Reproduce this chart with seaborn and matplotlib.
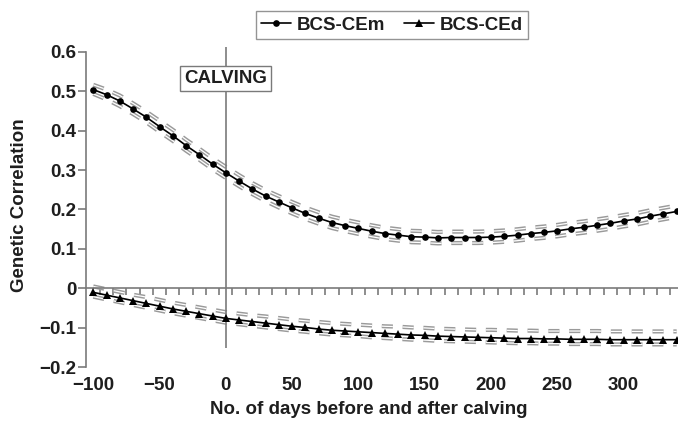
import matplotlib
matplotlib.use("Agg")
import matplotlib.pyplot as plt
import seaborn as sns
import numpy as np
import pandas as pd

# ---------------- data ----------------
days = [-100, -90, -80, -70, -60, -50, -40, -30, -20, -10,
        0, 10, 20, 30, 40, 50, 60, 70, 80, 90,
        100, 110, 120, 130, 140, 150, 160, 170, 180, 190,
        200, 210, 220, 230, 240, 250, 260, 270, 280, 290,
        300, 310, 320, 330, 340]

cem = [0.504, 0.491, 0.475, 0.455, 0.434, 0.410, 0.387, 0.362, 0.339, 0.315,
       0.293, 0.272, 0.252, 0.234, 0.219, 0.204, 0.190, 0.178, 0.167, 0.159,
       0.152, 0.145, 0.139, 0.135, 0.131, 0.130, 0.128, 0.129, 0.129, 0.129,
       0.130, 0.132, 0.135, 0.139, 0.142, 0.146, 0.151, 0.155, 0.160, 0.165,
       0.171, 0.176, 0.183, 0.189, 0.195]
cem_upper = [0.516, 0.504, 0.489, 0.469, 0.448, 0.425, 0.402, 0.377, 0.354, 0.330,
             0.308, 0.287, 0.267, 0.249, 0.234, 0.219, 0.205, 0.193, 0.182, 0.174,
             0.167, 0.160, 0.154, 0.150, 0.146, 0.145, 0.143, 0.144, 0.144, 0.144,
             0.145, 0.147, 0.150, 0.154, 0.157, 0.161, 0.166, 0.170, 0.175, 0.180,
             0.186, 0.191, 0.198, 0.204, 0.210]
cem_lower = [0.493, 0.479, 0.462, 0.442, 0.421, 0.397, 0.374, 0.349, 0.326, 0.302,
             0.280, 0.259, 0.239, 0.221, 0.205, 0.190, 0.176, 0.164, 0.153, 0.145,
             0.138, 0.131, 0.125, 0.121, 0.117, 0.116, 0.114, 0.115, 0.115, 0.115,
             0.116, 0.118, 0.121, 0.125, 0.128, 0.132, 0.137, 0.141, 0.146, 0.151,
             0.157, 0.162, 0.169, 0.175, 0.181]

ced = [-0.010, -0.017, -0.024, -0.031, -0.038, -0.045, -0.052, -0.058, -0.064, -0.070,
       -0.076, -0.080, -0.084, -0.088, -0.092, -0.096, -0.099, -0.103, -0.106, -0.108,
       -0.110, -0.112, -0.114, -0.116, -0.118, -0.119, -0.121, -0.122, -0.123, -0.124,
       -0.125, -0.126, -0.127, -0.127, -0.128, -0.128, -0.129, -0.129, -0.129, -0.130,
       -0.130, -0.130, -0.130, -0.130, -0.130]
ced_upper = [0.005, -0.002, -0.009, -0.016, -0.022, -0.029, -0.036, -0.042, -0.048, -0.054,
             -0.060, -0.064, -0.068, -0.071, -0.075, -0.079, -0.082, -0.085, -0.088, -0.090,
             -0.092, -0.094, -0.096, -0.097, -0.099, -0.100, -0.102, -0.103, -0.104, -0.105,
             -0.105, -0.106, -0.107, -0.107, -0.108, -0.108, -0.108, -0.108, -0.108, -0.109,
             -0.109, -0.109, -0.109, -0.109, -0.109]
ced_lower = [-0.021, -0.028, -0.035, -0.042, -0.049, -0.056, -0.063, -0.069, -0.075, -0.081,
             -0.087, -0.091, -0.095, -0.099, -0.103, -0.107, -0.110, -0.114, -0.117, -0.119,
             -0.121, -0.124, -0.126, -0.128, -0.130, -0.131, -0.133, -0.134, -0.135, -0.136,
             -0.137, -0.138, -0.139, -0.139, -0.140, -0.140, -0.141, -0.141, -0.141, -0.142,
             -0.142, -0.142, -0.142, -0.142, -0.142]

series_names = ["BCS-CEm", "BCS-CEd"]
ytick_vals = [0.6, 0.5, 0.4, 0.3, 0.2, 0.1, 0, -0.1, -0.2]
ytick_labels = ["0.6", "0.5", "0.4", "0.3", "0.2", "0.1", "0", "\u22120.1", "\u22120.2"]
xtick_vals = [-100, -50, 0, 50, 100, 150, 200, 250, 300]
xtick_labels = ["\u2212100", "\u221250", "0", "50", "100", "150", "200", "250", "300"]
minor_ticks = [-95, -85, -75, -65, -55, -45, -35, -25, -15, -5,
               5, 15, 25, 35, 45, 55, 65, 75, 85, 95,
               105, 115, 125, 135, 145, 155, 165, 175, 185, 195,
               205, 215, 225, 235, 245, 255, 265, 275, 285, 295,
               305, 315, 325, 335]

df = pd.DataFrame({"day": days, "cem": cem, "cem_u": cem_upper, "cem_l": cem_lower,
                   "ced": ced, "ced_u": ced_upper, "ced_l": ced_lower})

# ---------------- style ----------------
sns.set_theme(style="white")
plt.rcParams["font.family"] = ["Liberation Sans", "DejaVu Sans"]
plt.rcParams["font.weight"] = "bold"
plt.rcParams["lines.scale_dashes"] = False
plt.rcParams["lines.dash_capstyle"] = "butt"

AX_GRAY = "#7a7a7a"
TXT = "#1e1e1e"
BAND = "#9a9a9a"
FS = 13.5

fig = plt.figure(figsize=(6.78, 4.21), dpi=100)
ax = fig.add_axes([0.1268, 0.1275, 0.8732, 0.7685])

dash = (0, (8.0, 7.0))
for col in ["cem_u", "cem_l", "ced_u", "ced_l"]:
    sns.lineplot(data=df, x="day", y=col, ax=ax, color=BAND, lw=3.0,
                 linestyle=dash, errorbar=None, zorder=2)
    sns.lineplot(data=df, x="day", y=col, ax=ax, color="white", lw=0.9,
                 linestyle=dash, errorbar=None, zorder=2.1)

sns.lineplot(data=df, x="day", y="cem", ax=ax, color="black", lw=1.2,
             marker="o", markersize=4.8, markeredgewidth=0,
             errorbar=None, label=series_names[0], zorder=4)
sns.lineplot(data=df, x="day", y="ced", ax=ax, color="black", lw=1.2,
             marker="^", markersize=5.4, markeredgewidth=0,
             errorbar=None, label=series_names[1], zorder=4)

handles, labels = ax.get_legend_handles_labels()
if ax.get_legend() is not None:
    ax.get_legend().remove()

ax.set_xlim(-105.5, 341)
ax.set_ylim(-0.2, 0.62)

# calving line
ax.vlines(0, -0.15, 0.613, color=AX_GRAY, lw=1.2, zorder=3)
ax.text(0, 0.532, "CALVING", ha="center", va="center", fontsize=FS,
        fontweight="bold", color=TXT, zorder=5,
        bbox=dict(boxstyle="square,pad=0.22", fc="white", ec=AX_GRAY, lw=1.0))

# spines
for s in ["top", "right"]:
    ax.spines[s].set_visible(False)
ax.spines["left"].set_bounds(-0.2, 0.6)
ax.spines["left"].set_color(AX_GRAY)
ax.spines["left"].set_linewidth(1.2)
ax.spines["bottom"].set_position(("data", 0))
ax.spines["bottom"].set_color(AX_GRAY)
ax.spines["bottom"].set_linewidth(1.2)

ax.set_yticks(ytick_vals)
ax.set_yticklabels(ytick_labels)
ax.tick_params(axis="y", direction="out", length=5.5, width=1.2, color=AX_GRAY,
               labelsize=FS, labelcolor=TXT, pad=1.5, left=True)
for t in ax.get_yticklabels():
    t.set_fontweight("bold")

ax.set_xticks(minor_ticks)
ax.set_xticklabels([])
ax.tick_params(axis="x", direction="out", length=5, width=1.2, color=AX_GRAY, bottom=True)
ax.set_xlabel("No. of days before and after calving", fontsize=FS,
              fontweight="bold", color=TXT)
ax.xaxis.set_label_coords(0.478, -0.103)
ax.set_ylabel("Genetic Correlation", fontsize=FS, fontweight="bold", color=TXT)
ax.yaxis.set_label_coords(-0.098, 0.5)

sec = ax.secondary_xaxis("bottom")
sec.set_xticks(xtick_vals)
sec.set_xticklabels(xtick_labels)
sec.spines["bottom"].set_visible(False)
sec.tick_params(axis="x", length=0, pad=7, labelsize=FS, labelcolor=TXT)
for t in sec.get_xticklabels():
    t.set_fontweight("bold")

leg = fig.legend(handles, labels, loc="center", bbox_to_anchor=(392 / 678, 1 - 25 / 421),
                 ncol=2, frameon=True, fancybox=False, edgecolor=AX_GRAY,
                 prop={"weight": "bold", "size": FS}, handlelength=1.6,
                 handletextpad=0.3, columnspacing=1.0, borderpad=0.3)
leg.get_frame().set_linewidth(1.0)
for txt in leg.get_texts():
    txt.set_color(TXT)

fig.savefig("out.png", dpi=100)
